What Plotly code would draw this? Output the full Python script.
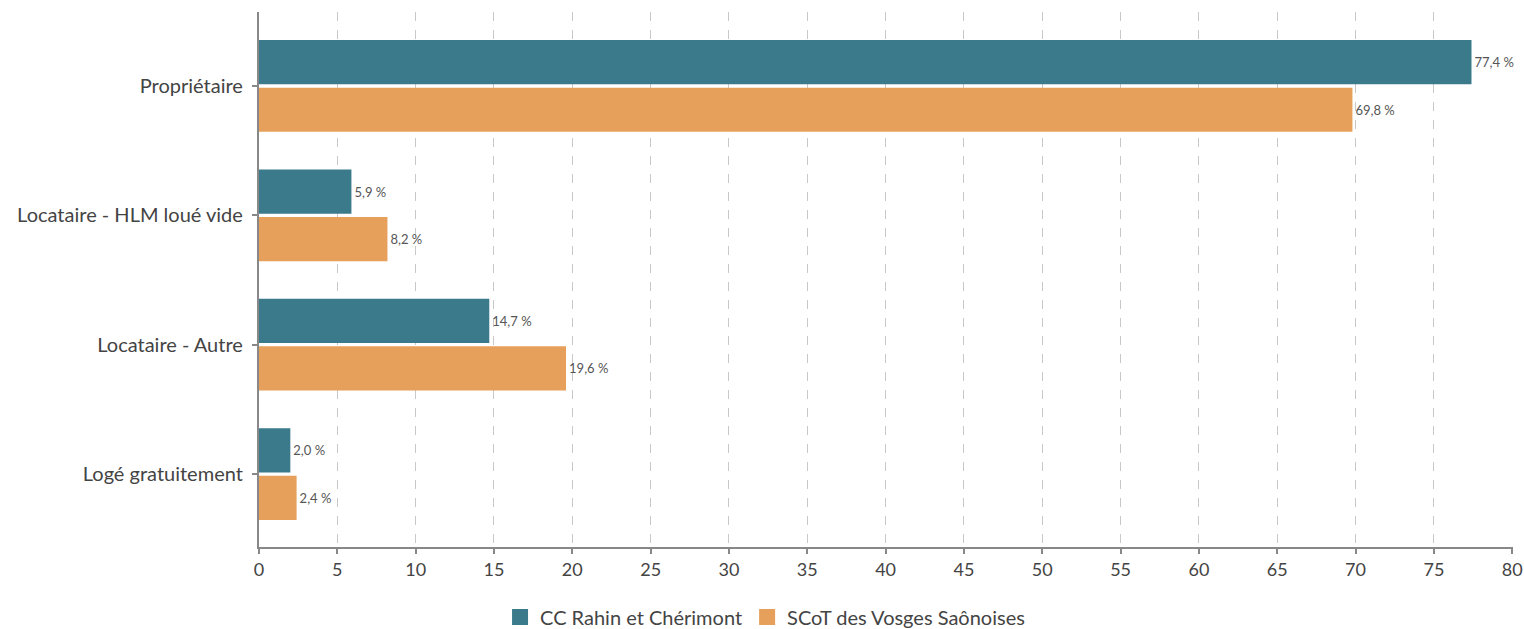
import plotly.graph_objects as go

categories = ["Propriétaire", "Locataire - HLM loué vide", "Locataire - Autre", "Logé gratuitement"]
series_names = ["CC Rahin et Chérimont", "SCoT des Vosges Saônoises"]
cc_values = [77.4, 5.9, 14.7, 2.0]
scot_values = [69.8, 8.2, 19.6, 2.4]
x_ticks = list(range(0, 85, 5))

colors = ["#3a7a8b", "#e6a05b"]
font_family = "Lato, Open Sans, sans-serif"


def fmt(v):
    return f"{v:.1f}".replace(".", ",") + " %"


fig = go.Figure()
for name, vals, col in zip(series_names, [cc_values, scot_values], colors):
    fig.add_trace(go.Bar(
        y=categories, x=vals, name=name, orientation="h",
        marker=dict(color=col, line=dict(width=0)),
        text=[fmt(v) for v in vals], textposition="outside",
        textfont=dict(size=13, color="#555555", family=font_family),
        cliponaxis=False, showlegend=False,
    ))
    # legend proxy with a large square swatch
    fig.add_trace(go.Scatter(
        x=[None], y=[None], mode="markers", name=name,
        marker=dict(symbol="square", size=22, color=col),
        showlegend=True,
    ))

fig.update_layout(
    template="none",
    width=1524, height=629,
    margin=dict(l=259, r=11, t=12, b=82, autoexpand=False),
    paper_bgcolor="white", plot_bgcolor="white",
    barmode="group", bargap=0.265, bargroupgap=0.07,
    font=dict(family=font_family, color="#444444"),
    showlegend=True,
    legend=dict(orientation="h", xref="container", yref="container",
                x=0.502, xanchor="center", y=0.019, yanchor="middle",
                font=dict(size=20, color="#444444"), traceorder="normal",
                itemsizing="trace", bgcolor="rgba(0,0,0,0)"),
    xaxis=dict(
        range=[0, 80.05], tickvals=x_ticks, ticktext=[str(t) for t in x_ticks],
        showgrid=True, gridcolor="#c8c8c8", griddash="dash", gridwidth=1,
        showline=True, linecolor="#888888", linewidth=2,
        ticks="outside", ticklen=5, tickcolor="#888888", tickwidth=2,
        tickfont=dict(size=18, color="#444444"), zeroline=False,
        automargin=False,
    ),
    yaxis=dict(
        range=[3.564, -0.572], type="category",
        showline=True, linecolor="#888888", linewidth=2,
        ticks="outside", ticklen=5, tickcolor="#888888", tickwidth=2,
        tickfont=dict(size=20, color="#444444"), showgrid=False,
        ticksuffix=" ", automargin=False, zeroline=False,
    ),
)

fig.write_html("out.html", config={"displayModeBar": False},
               post_script="document.body.style.margin='0';")
